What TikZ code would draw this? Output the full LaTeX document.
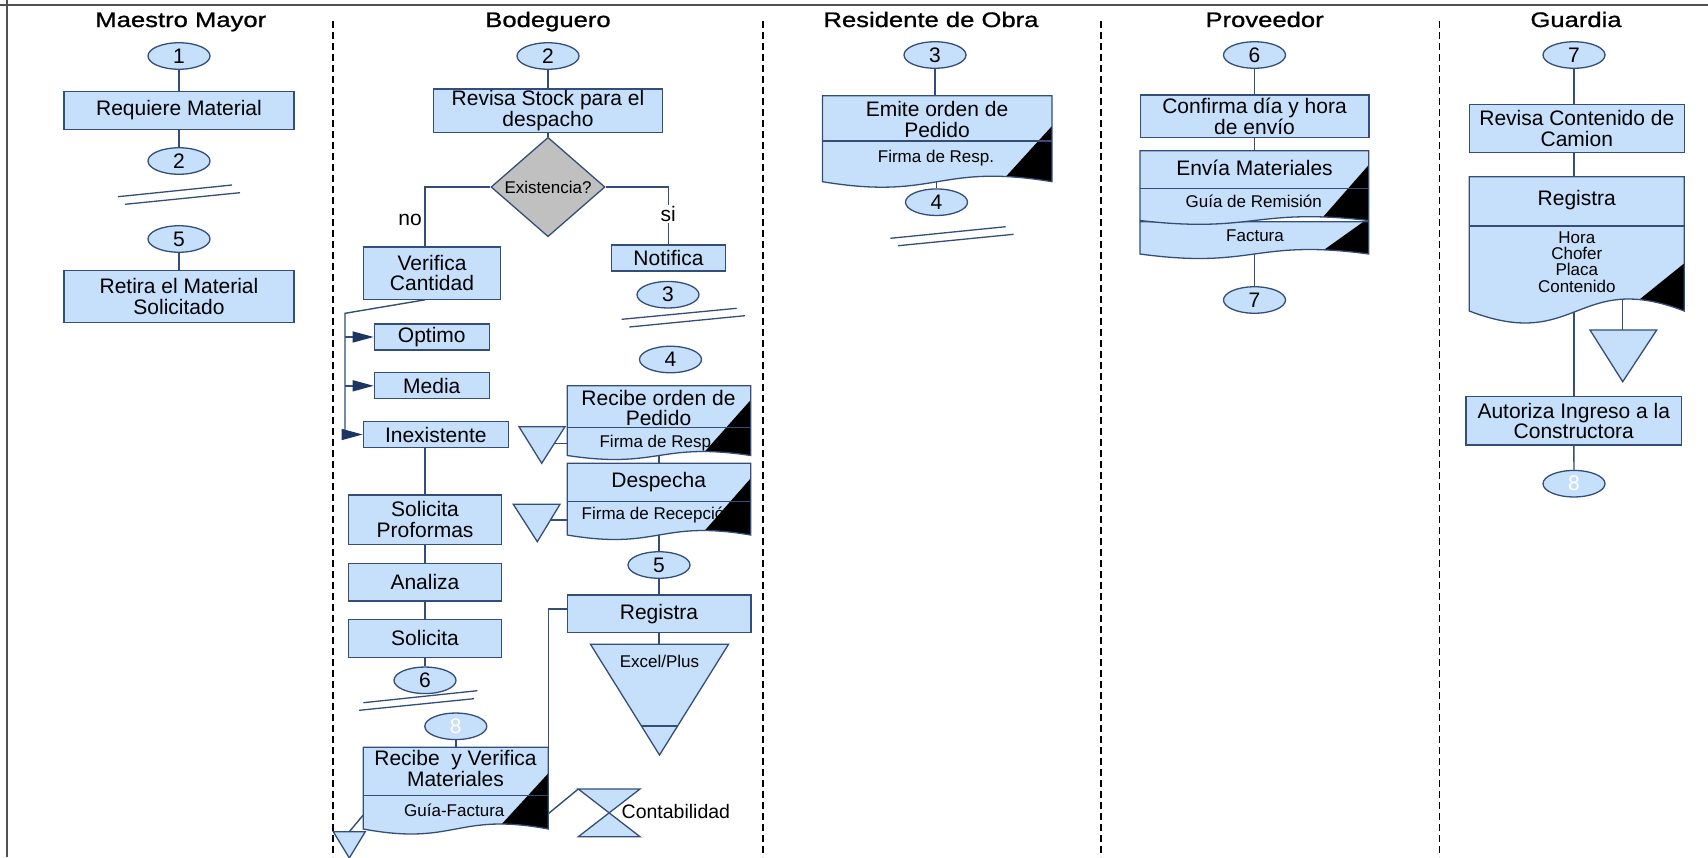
\documentclass[tikz,border=0pt]{standalone}
\usepackage{fontspec}
\setmainfont{Liberation Sans}
\newfontfamily\titlefont{Liberation Sans}[FakeStretch=1.22,FakeBold=1]
\usetikzlibrary{shapes.geometric,arrows.meta,calc}

\definecolor{boxfill}{RGB}{198,224,252}
\definecolor{edge}{RGB}{52,78,120}
\definecolor{navy}{RGB}{28,54,100}
\definecolor{framegray}{RGB}{80,80,80}
\definecolor{diagray}{RGB}{192,192,192}

\pgfdeclarelayer{bg}
\pgfdeclarelayer{paper}
\pgfsetlayers{paper,bg,main}

\newcommand\txtbody{\fontsize{21}{20.5}\selectfont}
\newcommand\txtsmall{\fontsize{17}{16.3}\selectfont}

\tikzset{
  link/.style={draw=edge, line width=1.4pt},
  arr/.style={link, -{Triangle[length=21pt,width=11pt,color=navy]}},
  brk/.style={draw=edge, line width=1.3pt},
  tri/.style={draw=edge, fill=boxfill, line width=1.3pt},
  lane/.style={black, line width=1.8pt, dash pattern=on 7pt off 4pt},
  lanetitle/.style={font=\titlefont\fontsize{21}{24}\selectfont, anchor=base, inner sep=0pt},
  oval/.style={ellipse, draw=edge, fill=boxfill, line width=1.3pt, minimum width=62, minimum height=26.5, inner sep=0pt, font=\txtbody},
  proc/.style={rectangle, draw=edge, fill=boxfill, line width=1.3pt, inner sep=0pt, align=center, font=\txtbody},
  decision/.style={diamond, draw=edge, fill=diagray, line width=1.3pt, minimum width=114, minimum height=90, inner sep=0pt, font=\txtsmall},
  doctext/.style={inner sep=0pt, align=center, font=\txtbody},
  docsmall/.style={inner sep=0pt, align=center, font=\txtsmall},
}

% document symbol: #1 name, #2 left, #3 top, #4 right, #5 bottom, #6 wave amplitude,
% #7 divider, #8 top of the black corner, #9 lower end of the corner edge
\newcommand\docsheet[9]{%
  \fill[boxfill] (#2,#3) -- (#4,#3) -- (#4,#5)
    .. controls ({(#2+#4)/2},{#5-3.46*#6}) and ({(#2+#4)/2},{#5+3.46*#6}) .. (#2,#5) -- cycle;
  \begin{scope}
    \clip (#2,#3) -- (#4,#3) -- (#4,#5)
      .. controls ({(#2+#4)/2},{#5-3.46*#6}) and ({(#2+#4)/2},{#5+3.46*#6}) .. (#2,#5) -- cycle;
    \coordinate (#1-c) at (#4,#8);
    \coordinate (#1-p) at ($(#1-c)!2!(#9)$);
    \fill[black] (#1-c) -- (#1-p) -- (#1-p -| #1-c) -- cycle;
  \end{scope}
  \draw[edge, line width=1.3pt] (#2,#3) -- (#4,#3) -- (#4,#5)
    .. controls ({(#2+#4)/2},{#5-3.46*#6}) and ({(#2+#4)/2},{#5+3.46*#6}) .. (#2,#5) -- cycle;
  \draw[edge, line width=1.3pt] (#2,#7) -- (#4,#7);
  \node[inner sep=0pt, minimum width={#4-#2}, minimum height={#5-#3}] (#1) at ({(#2+#4)/2},{(#3+#5)/2}) {};
}

\begin{document}
\begin{tikzpicture}[x=1pt,y=-1pt]
\useasboundingbox (0,0) rectangle (1708,857);
\begin{pgfonlayer}{paper}
  \fill[white] (0,0) rectangle (1708,857);
\end{pgfonlayer}

% outer frame
\draw[framegray, line width=2.2pt] (7,0) -- (7,857);
\draw[framegray, line width=2.2pt] (0,5) -- (1708,5);

% swimlane separators
\foreach \x in {333,762.8,1101,1439.5} \draw[lane] (\x,21) -- (\x,857);

% lane titles
\node[lanetitle] (tMaestro) at (180.8,27) {Maestro Mayor};
\node[lanetitle] (tBodega) at (548,27) {Bodeguero};
\node[lanetitle] (tResid) at (931,27) {Residente de Obra};
\node[lanetitle] (tProv) at (1264.6,27) {Proveedor};
\node[lanetitle] (tGuard) at (1576,27) {Guardia};

% ---------- Maestro Mayor ----------
\node[oval] (m1) at (179,56) {1};
\node[proc, minimum width=230, minimum height=37.7] (mreq) at (179,110.5) {Requiere Material};
\node[oval] (m2) at (179,161) {2};
\draw[brk] (118,196.7) -- (232,185);
\draw[brk] (125,204.3) -- (240,192.7);
\node[oval] (m5) at (179,239) {5};
\node[proc, minimum width=230, minimum height=52] (mret) at (179,296.3) {Retira el Material\\Solicitado};

% ---------- Bodeguero ----------
\node[oval] (b2) at (548,56) {2};
\node[proc, minimum width=229, minimum height=43.3] (brev) at (548,110.7) {Revisa Stock para el\\despacho};
\node[decision] (bdia) at (548,187) {Existencia?};
\node[proc, minimum width=137.4, minimum height=52.3] (bver) at (432,273) {Verifica\\Cantidad};
\node[proc, minimum width=114.3, minimum height=26] (bnot) at (668.5,258) {Notifica};
\node[inner sep=0pt, font=\txtbody, anchor=base] (lno) at (410,225) {no};
\node[inner sep=1pt, fill=white, font=\txtbody, anchor=base] (lsi) at (668.3,221.5) {si};
\node[proc, minimum width=115, minimum height=26] (bopt) at (431.8,337) {Optimo};
\node[proc, minimum width=115, minimum height=26] (bmed) at (431.8,385.8) {Media};
\node[proc, minimum width=145, minimum height=25.6] (binex) at (435.8,434.5) {Inexistente};
\node[proc, minimum width=153.4, minimum height=49.3] (bprof) at (425,519.7) {Solicita\\Proformas};
\node[proc, minimum width=153.4, minimum height=37.7] (bana) at (425,582.2) {Analiza};
\node[proc, minimum width=153.4, minimum height=38] (bsol) at (425,638.3) {Solicita};
\node[oval] (b6) at (425,680.3) {6};
\draw[brk] (363.3,702.7) -- (477.3,690.7);
\draw[brk] (359,710.3) -- (474,698.7);
\node[oval, text=white] (b8) at (455.8,726.3) {8};

\docsheet{brecv}{363.3}{747.3}{548.3}{829}{5}{795.7}{773.3}{502.7,823}
\node[doctext] (brecvt) at (455.5,768.6) {Recibe\ \ y Verifica\\Materiales};
\node[docsmall] (brecvs) at (454.3,810) {Guía-Factura};

% storage below the receiving document
\filldraw[tri] (333.3,831.7) -- (365.3,831.7) -- (349.3,858) -- cycle;
\coordinate (bt3) at (349.3,831.7);

% collate symbol
\filldraw[tri] (578.3,789) -- (640,789) -- (578.3,836.7) -- (640,836.7) -- cycle;
\coordinate (bhg) at (578.3,789);
\node[inner sep=0pt, anchor=west, font=\fontsize{19.5}{22}\selectfont] (bcont) at (621.5,812) {Contabilidad};

\node[oval] (b3) at (668,294.7) {3};
\draw[brk] (621.7,319.3) -- (736.7,308.3);
\draw[brk] (629.3,327) -- (745,315.7);
\node[oval] (b4) at (670.5,359.5) {4};

\docsheet{bord}{567.3}{385.7}{750.7}{455.5}{4}{427.7}{400}{705,451.3}
\node[doctext] (bordt) at (658.5,407.8) {Recibe orden de\\Pedido};
\node[docsmall] (bords) at (657.7,443) {Firma de Resp.};
\filldraw[tri] (519,426.7) -- (565,426.7) -- (541.7,463.3) -- cycle;
\coordinate (bt1) at (554.5,443.3);

\docsheet{bdesp}{567.3}{463.3}{750.7}{535}{4.5}{501.7}{478.3}{705,530.3}
\node[doctext] (bdespt) at (658.7,481.7) {Despecha};
\node[docsmall] (bdesps) at (657.8,515) {Firma de Recepción};
\filldraw[tri] (513.3,504.3) -- (560,504.3) -- (537.3,541.7) -- cycle;
\coordinate (bt2) at (550.5,520);

\node[oval] (b5) at (659,565) {5};
\node[proc, minimum width=183.7, minimum height=37.7] (breg) at (659,613.8) {Registra};
\filldraw[tri] (590.5,644.3) -- (728.5,644.3) -- (659.5,755) -- cycle;
\draw[edge, line width=1.3pt] (641.4,726) -- (677.6,726);
\coordinate (bxl) at (659,644.3);
\node[docsmall] (bxlt) at (659.5,661.7) {Excel/Plus};

% ---------- Residente de Obra ----------
\node[oval] (r3) at (935,55) {3};
\docsheet{remi}{822.5}{95.7}{1052}{181.7}{5.5}{141}{126}{1006.4,176}
\node[doctext] (remit) at (937,119.3) {Emite orden de\\Pedido};
\node[docsmall] (remis) at (936,157.7) {Firma de Resp.};
\node[oval] (r4) at (936.5,202.2) {4};
\draw[brk] (890.4,238.3) -- (1005.7,226.7);
\draw[brk] (898.2,245.7) -- (1013.6,234.3);

% ---------- Proveedor ----------
\node[oval] (p6) at (1254.5,55) {6};
\node[proc, minimum width=228.7, minimum height=42.7] (pconf) at (1254.5,116.3) {Confirma día y hora\\de envío};
\docsheet{pfac}{1140}{221.7}{1368.7}{254}{4.5}{221.7}{218}{1323.3,250.3}
\docsheet{penv}{1140}{150.7}{1368.7}{220.5}{3.8}{188.3}{165}{1323.3,216.7}
\node[doctext] (penvt) at (1254.5,168.3) {Envía Materiales};
\node[docsmall] (penvs) at (1253.7,201.7) {Guía de Remisión};
\node[docsmall] (pfacs) at (1255,236) {Factura};
\node[oval] (p7) at (1254.5,300) {7};

% ---------- Guardia ----------
\node[oval] (g7) at (1574,55) {7};
\node[proc, minimum width=215, minimum height=48] (grev) at (1576.8,128.3) {Revisa Contenido de\\Camion};
\docsheet{greg}{1469.3}{176.7}{1684.3}{311}{12}{226}{263.3}{1640,299}
\node[doctext] (gregt) at (1576.8,200) {Registra};
\node[docsmall] (gregs) at (1576.8,262) {Hora\\Chofer\\Placa\\Contenido};
\filldraw[tri] (1590,330) -- (1656.7,330) -- (1622.7,381.7) -- cycle;
\coordinate (gtri) at (1622.7,330);
\node[proc, minimum width=215.7, minimum height=48.3] (gaut) at (1573.8,420.8) {Autoriza Ingreso a la\\Constructora};
\node[oval, text=white] (g8) at (1574,483.7) {8};

% ---------- connectors ----------
\begin{pgfonlayer}{bg}
  % Maestro Mayor
  \draw[link] (m1) -- (mreq);
  \draw[link] (mreq) -- (m2);
  \draw[link] (m5) -- (mret);
  % Bodeguero: decision
  \draw[link] (b2) -- (brev);
  \draw[link] (brev) -- (bdia);
  \coordinate (bvtop) at ($(bver.north west)!0.45!(bver.north east)$);
  \coordinate (bvbot) at ($(bver.south west)!0.45!(bver.south east)$);
  \draw[link] (bdia.west) -- (bdia.west -| bvtop) -- (bvtop);
  \draw[link] (bdia.east) -- (bdia.east -| bnot.north) -- (bnot.north);
  % quantity levels
  \coordinate (bsplit) at (345,313.3);
  \draw[link] (bvbot) -- (bsplit) -- (bsplit |- binex.west);
  \draw[arr] (bsplit |- bopt.west) -- (bopt.west);
  \draw[arr] (bsplit |- bmed.west) -- (bmed.west);
  \draw[arr] (bsplit |- binex.west) -- (binex.west);
  % purchase chain
  \draw[link] (binex.south -| bprof.north) -- (bprof.north);
  \draw[link] (bprof) -- (bana);
  \draw[link] (bana) -- (bsol);
  \draw[link] (bsol) -- (b6);
  \draw[link] (b8) -- (brecv);
  \draw[link] ($(brecv.south west)+(0,-14)$) -- (bt3);
  \draw[link] ($(brecv.south east)+(0,-15.7)$) -- (bhg);
  \coordinate (bregw) at ($(breg.west)+(0,-5)$);
  \draw[link] (bregw) -- (bregw -| brecv.north east) -- (brecv.north east);
  % dispatch chain
  \draw[link] (bt1) -- (bt1 -| bord.west);
  \draw[link] (bt2) -- (bt2 -| bdesp.west);
  \draw[link] (bord.south) -- (bdesp.north);
  \draw[link] (bdesp.south) -- (b5);
  \draw[link] (b5) -- (breg);
  \draw[link] (breg.south) -- (breg.south |- bxl);
  % Residente de Obra
  \draw[link] (r3) -- (r3 |- remi.north);
  \draw[link] (r4 |- remi.south) -- (r4);
  % Proveedor
  \draw[link] (p6) -- (pconf);
  \draw[link] (pconf.south) -- (pconf.south |- penv.north);
  \draw[link] (pfac.south -| p7) -- (p7);
  % Guardia
  \draw[link] (g7) -- (g7 |- grev.north);
  \draw[link] (g7 |- grev.south) -- (g7 |- greg.north);
  \coordinate (gwave) at (1574,300);
  \draw[link] (gwave) -- (gwave |- gaut.north);
  \coordinate (gwave2) at (1622.7,295);
  \draw[link] (gwave2) -- (gtri);
  \draw[link] (gaut) -- (g8);
\end{pgfonlayer}
\end{tikzpicture}
\end{document}
